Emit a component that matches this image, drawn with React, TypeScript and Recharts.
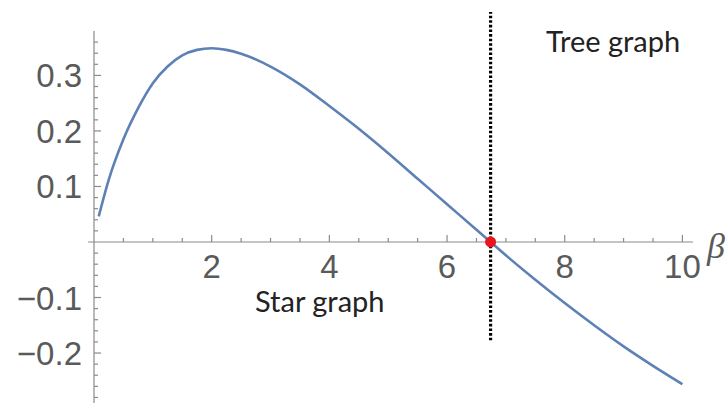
import React from "react";
import {
  LineChart,
  Line,
  XAxis,
  YAxis,
  ReferenceLine,
  ReferenceDot,
} from "recharts";

// curve: beta vs value
const betaValues = [
  0.08, 0.25, 0.5, 0.75, 1, 1.25, 1.5, 1.75, 2, 2.25, 2.5, 3, 3.5, 4, 4.5, 5,
  5.5, 6, 6.5, 6.74, 7, 7.5, 8, 8.5, 9, 9.5, 10.0,
];
const curveValues = [
  0.046, 0.112, 0.185, 0.241, 0.286, 0.316, 0.336, 0.346, 0.349, 0.346, 0.339,
  0.316, 0.284, 0.245, 0.204, 0.16, 0.114, 0.068, 0.022, 0.0, -0.024, -0.068,
  -0.11, -0.15, -0.188, -0.223, -0.256,
];

const xMajorTicks = [2, 4, 6, 8, 10];
const xMajorLabels = ["2", "4", "6", "8", "10"];
const xMinorTicks = [
  0.5, 1, 1.5, 2.5, 3, 3.5, 4.5, 5, 5.5, 6.5, 7, 7.5, 8.5, 9, 9.5,
];

const yMajorTicks = [-0.2, -0.1, 0.1, 0.2, 0.3];
const yMajorLabels = ["\u22120.2", "\u22120.1", "0.1", "0.2", "0.3"];
const yMinorTicks = [
  -0.28, -0.26, -0.24, -0.22, -0.18, -0.16, -0.14, -0.12, -0.08, -0.06, -0.04,
  -0.02, 0.02, 0.04, 0.06, 0.08, 0.12, 0.14, 0.16, 0.18, 0.22, 0.24, 0.26,
  0.28, 0.32, 0.34, 0.36,
];

const crossing = 6.74;

const data = betaValues.map((b, i) => ({ beta: b, value: curveValues[i] }));

const axisColor = "#8a8a8a";
const labelColor = "#5a5a5a";
const tickFont = "'Liberation Sans', Arial, sans-serif";
const noteFont = "Lato, 'Open Sans', sans-serif";

const YTick = (props: any) => {
  const { x, y, payload } = props;
  const idx = yMajorTicks.findIndex((t) => Math.abs(t - payload.value) < 1e-9);
  const axisX = x + 12;
  const len = idx >= 0 ? 7 : 4;
  return (
    <g>
      <line x1={axisX} y1={y} x2={axisX + len} y2={y} stroke={axisColor} strokeWidth={1.2} />
      {idx >= 0 && (
        <text
          x={x}
          y={y + 12}
          textAnchor="end"
          fontFamily={tickFont}
          fontSize={33}
          fill={labelColor}
        >
          {yMajorLabels[idx]}
        </text>
      )}
    </g>
  );
};

const XMajorShape = (label: string) => (props: any) => {
  const { cx, cy } = props;
  return (
    <g>
      <line x1={cx} y1={cy} x2={cx} y2={cy - 7} stroke={axisColor} strokeWidth={1.2} />
      <text
        x={cx}
        y={cy + 36}
        textAnchor="middle"
        fontFamily={tickFont}
        fontSize={33}
        fill={labelColor}
      >
        {label}
      </text>
    </g>
  );
};

const XMinorShape = (props: any) => {
  const { cx, cy } = props;
  return <line x1={cx} y1={cy} x2={cx} y2={cy - 4} stroke={axisColor} strokeWidth={1.2} />;
};

export default function App() {
  return (
    <div
      style={{
        position: "absolute",
        left: 0,
        top: 0,
        width: 727,
        height: 404,
        background: "#fff",
        overflow: "hidden",
      }}
    >
      <LineChart
        width={727}
        height={404}
        data={data}
        margin={{ top: 31, right: 34, left: 0, bottom: 1 }}
      >
        <XAxis dataKey="beta" type="number" domain={[0, 10.18]} hide />
        <YAxis
          type="number"
          domain={[-0.29, 0.38]}
          ticks={[...yMajorTicks, ...yMinorTicks]}
          width={94}
          tickSize={0}
          tickMargin={12}
          tickLine={false}
          axisLine={{ stroke: axisColor, strokeWidth: 1.2 }}
          tick={<YTick />}
          interval={0}
        />
        <ReferenceLine
          segment={[
            { x: -0.1, y: 0 },
            { x: 10.18, y: 0 },
          ]}
          stroke={axisColor}
          strokeWidth={1.2}
          ifOverflow="visible"
        />
        {xMinorTicks.map((t) => (
          <ReferenceDot key={"m" + t} x={t} y={0} shape={XMinorShape} />
        ))}
        {xMajorTicks.map((t, i) => (
          <ReferenceDot key={"M" + t} x={t} y={0} shape={XMajorShape(xMajorLabels[i])} />
        ))}
        <ReferenceLine
          segment={[
            { x: crossing, y: -0.177 },
            { x: crossing, y: 0.414 },
          ]}
          stroke="#000"
          strokeWidth={3.2}
          strokeDasharray="2.6 2"
          ifOverflow="visible"
        />
        <Line
          type="monotone"
          dataKey="value"
          stroke="#5e81b5"
          strokeWidth={2.6}
          dot={false}
          isAnimationActive={false}
        />
        <ReferenceDot x={crossing} y={0} r={5.5} fill="#e8141e" stroke="none" />
      </LineChart>
      <div
        style={{
          position: "absolute",
          left: 546,
          top: 24,
          fontFamily: noteFont,
          fontSize: 29,
          lineHeight: "34px",
          color: "#222",
          whiteSpace: "nowrap",
        }}
      >
        Tree graph
      </div>
      <div
        style={{
          position: "absolute",
          left: 255,
          top: 284,
          fontFamily: noteFont,
          fontSize: 29,
          lineHeight: "34px",
          color: "#222",
          whiteSpace: "nowrap",
        }}
      >
        Star graph
      </div>
      <div
        style={{
          position: "absolute",
          left: 707,
          top: 226,
          fontFamily: "'Liberation Serif', 'DejaVu Serif', serif",
          fontStyle: "italic",
          fontSize: 36,
          lineHeight: "40px",
          color: labelColor,
        }}
      >
        β
      </div>
    </div>
  );
}
